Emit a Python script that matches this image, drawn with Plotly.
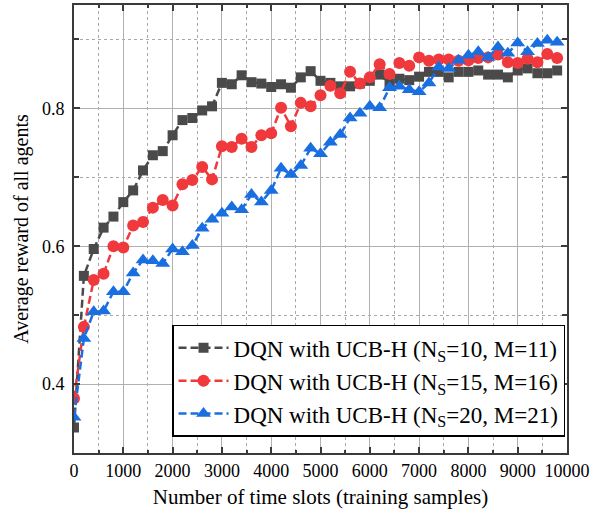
import plotly.graph_objects as go

time_slots = [0, 200, 400, 600, 800, 1000, 1200, 1400, 1600, 1800,
              2000, 2200, 2400, 2600, 2800, 3000, 3200, 3400, 3600, 3800,
              4000, 4200, 4400, 4600, 4800, 5000, 5200, 5400, 5600, 5800,
              6000, 6200, 6400, 6600, 6800, 7000, 7200, 7400, 7600, 7800,
              8000, 8200, 8400, 8600, 8800, 9000, 9200, 9400, 9600, 9800]

reward_ns10 = [0.337, 0.557, 0.596, 0.627, 0.643, 0.664, 0.681, 0.710, 0.732, 0.738,
               0.761, 0.783, 0.786, 0.797, 0.803, 0.837, 0.835, 0.848, 0.838, 0.836,
               0.831, 0.835, 0.830, 0.845, 0.854, 0.840, 0.837, 0.832, 0.832, 0.836,
               0.840, 0.849, 0.836, 0.843, 0.841, 0.846, 0.853, 0.853, 0.845, 0.853,
               0.853, 0.855, 0.849, 0.849, 0.845, 0.855, 0.858, 0.851, 0.851, 0.855]

reward_ns15 = [0.379, 0.483, 0.551, 0.560, 0.600, 0.598, 0.630, 0.635, 0.656, 0.667,
               0.659, 0.690, 0.696, 0.715, 0.697, 0.745, 0.744, 0.756, 0.744, 0.761,
               0.764, 0.801, 0.774, 0.808, 0.803, 0.819, 0.833, 0.822, 0.853, 0.836,
               0.845, 0.864, 0.850, 0.866, 0.862, 0.874, 0.869, 0.871, 0.871, 0.869,
               0.870, 0.873, 0.874, 0.878, 0.867, 0.866, 0.872, 0.867, 0.879, 0.873]

reward_ns20 = [0.352, 0.466, 0.505, 0.506, 0.534, 0.534, 0.561, 0.580, 0.579, 0.575,
               0.596, 0.592, 0.601, 0.626, 0.639, 0.648, 0.657, 0.653, 0.675, 0.664,
               0.681, 0.713, 0.704, 0.717, 0.742, 0.734, 0.751, 0.762, 0.786, 0.793,
               0.803, 0.801, 0.830, 0.832, 0.827, 0.824, 0.837, 0.860, 0.858, 0.870,
               0.877, 0.882, 0.874, 0.889, 0.880, 0.895, 0.882, 0.894, 0.899, 0.896]

series_names = ["DQN with UCB-H (N<sub>S</sub>=10, M=11)",
                "DQN with UCB-H (N<sub>S</sub>=15, M=16)",
                "DQN with UCB-H (N<sub>S</sub>=20, M=21)"]

x_tick_vals = [0, 1000, 2000, 3000, 4000, 5000, 6000, 7000, 8000, 9000, 10000]
x_tick_text = ["0", "1000", "2000", "3000", "4000", "5000", "6000", "7000", "8000", "9000", "10000"]
y_tick_vals = [0.4, 0.6, 0.8]
y_tick_text = ["0.4", "0.6", "0.8"]

styles = [
    dict(color="#4a4a4a", symbol="square", size=10),
    dict(color="#f0393c", symbol="circle", size=12),
    dict(color="#1a6fe0", symbol="triangle-up", size=13),
]

FONT = "Liberation Serif"

fig = go.Figure()
for name, ys, st in zip(series_names, [reward_ns10, reward_ns15, reward_ns20], styles):
    fig.add_trace(go.Scatter(
        x=time_slots, y=ys, name=name, mode="lines+markers",
        line=dict(color=st["color"], width=2.5, dash="8px,4px"),
        marker=dict(color=st["color"], symbol=st["symbol"], size=st["size"]),
    ))

axis_common = dict(
    showline=True, linecolor="#3a3a3a", linewidth=2, mirror="ticks",
    ticks="inside", ticklen=6, tickwidth=1.5, tickcolor="#3a3a3a",
    showgrid=True, gridcolor="#b0b0b0", gridwidth=1.2,
    zeroline=False, automargin=False,
    tickfont=dict(family=FONT, size=18, color="black"),
)

fig.update_layout(
    width=608, height=514,
    margin=dict(l=74, r=41, t=5, b=61),
    paper_bgcolor="white", plot_bgcolor="white",
    font=dict(family=FONT, color="black"),
    xaxis=dict(
        range=[0, 10000], tickvals=x_tick_vals, ticktext=x_tick_text,
        title=dict(text="Number of time slots (training samples)",
                   font=dict(family=FONT, size=21), standoff=10),
        minor=dict(dtick=500, tick0=0, showgrid=True, griddash="dot",
                   gridcolor="#a8a8a8", gridwidth=1, ticks="inside",
                   ticklen=3, tickcolor="#3a3a3a"),
        **axis_common,
    ),
    yaxis=dict(
        range=[0.3, 0.95], tickvals=y_tick_vals, ticktext=y_tick_text,
        ticklabelstandoff=4,
        title=dict(text="Average reward of all agents",
                   font=dict(family=FONT, size=20), standoff=8),
        minor=dict(dtick=0.1, tick0=0.3, showgrid=True, griddash="dot",
                   gridcolor="#a8a8a8", gridwidth=1, ticks="inside",
                   ticklen=5, tickcolor="#3a3a3a"),
        **axis_common,
    ),
    legend=dict(
        x=0.996, y=0.036, xanchor="right", yanchor="bottom",
        bgcolor="white", bordercolor="black", borderwidth=1.5,
        font=dict(family=FONT, size=23, color="black"),
        itemwidth=50, tracegroupgap=0,
    ),
    showlegend=True,
)

fig.write_html("out.html", config={"displayModeBar": False},
               post_script="document.body.style.margin='0';")
